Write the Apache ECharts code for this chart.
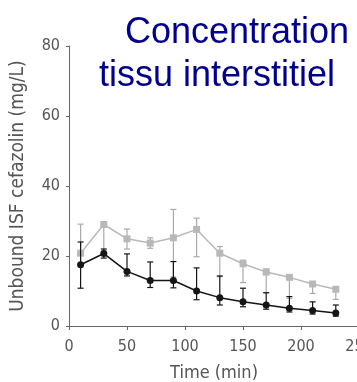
<!DOCTYPE html>
<html>
<head>
<meta charset="utf-8">
<script src="https://cdn.jsdelivr.net/npm/echarts@6/dist/echarts.min.js"></script>
<style>
html,body{margin:0;padding:0;background:#fff;}
#chart{width:357px;height:382px;}
</style>
</head>
<body>
<div id="chart"></div>
<script>
// ---- data ----
var times = [10, 30, 50, 70, 90, 110, 130, 150, 170, 190, 210, 230];

var grayMean = [20.8, 29.0, 24.9, 23.7, 25.2, 27.6, 20.8, 17.8, 15.4, 13.9, 12.0, 10.5];
var grayHigh = [29.1, 29.8, 27.7, 25.2, 33.3, 30.8, 22.7, 18.8, 16.3, 14.6, 12.6, 11.0];
var grayLow  = [18.0, 21.5, 22.0, 22.2, 14.0, 19.8, 14.1, 12.4, 9.5, 7.9, 9.3, 7.6];

var blackMean = [17.5, 20.7, 15.6, 13.0, 13.0, 10.0, 8.1, 6.9, 6.0, 5.1, 4.4, 3.7];
var blackHigh = [24.0, 22.0, 20.6, 18.3, 18.4, 16.6, 14.3, 10.8, 9.5, 8.4, 6.9, 6.0];
var blackLow  = [10.8, 19.4, 14.3, 11.0, 10.9, 7.5, 6.0, 5.5, 4.8, 4.0, 3.4, 2.8];

var xTicks = [0, 50, 100, 150, 200, 250];
var yTicks = [0, 20, 40, 60, 80];

var titleLine1 = 'Concentration';
var titleLine2 = 'tissu interstitiel';
var xName = 'Time (min)';
var yName = 'Unbound ISF cefazolin (mg/L)';

// ---- build ----
function pairs(xs, ys) { return xs.map(function (x, i) { return [x, ys[i]]; }); }
function errs(xs, lo, hi) { return xs.map(function (x, i) { return [x, lo[i], hi[i]]; }); }

function errRender(color) {
  return function (params, api) {
    var x = api.value(0);
    var pLo = api.coord([x, api.value(1)]);
    var pHi = api.coord([x, api.value(2)]);
    var w = 3;
    var st = { stroke: color, lineWidth: 1.2 };
    return {
      type: 'group',
      children: [
        { type: 'line', shape: { x1: pLo[0], y1: pLo[1], x2: pHi[0], y2: pHi[1] }, style: st },
        { type: 'line', shape: { x1: pLo[0] - w, y1: pLo[1], x2: pLo[0] + w, y2: pLo[1] }, style: st },
        { type: 'line', shape: { x1: pHi[0] - w, y1: pHi[1], x2: pHi[0] + w, y2: pHi[1] }, style: st }
      ]
    };
  };
}

var axisFont = '"DejaVu Sans Condensed", "DejaVu Sans", sans-serif';
var gray = '#b8b8b8';
var grayErr = '#aaaaaa';
var black = '#151515';

var chart = echarts.init(document.getElementById('chart'), null, { renderer: 'canvas' });
chart.setOption({
  animation: false,
  backgroundColor: '#fff',
  grid: { left: 69, right: -2, top: 46, bottom: 56, containLabel: false, outerBoundsMode: 'none' },
  xAxis: {
    type: 'value', min: xTicks[0], max: xTicks[xTicks.length - 1], interval: 50,
    name: xName, nameLocation: 'middle', nameGap: 38,
    nameTextStyle: { color: '#555', fontSize: 18, fontFamily: axisFont },
    axisLine: { lineStyle: { color: '#666', width: 1 } },
    axisTick: { show: true, length: 4, lineStyle: { color: '#666' } },
    axisLabel: { color: '#555', fontSize: 16, fontFamily: axisFont, margin: 13, showMaxLabel: true, hideOverlap: false },
    splitLine: { show: false }
  },
  yAxis: {
    type: 'value', min: yTicks[0], max: yTicks[yTicks.length - 1], interval: 20,
    name: yName, nameLocation: 'middle', nameGap: 41, nameRotate: 90,
    nameTextStyle: { color: '#555', fontSize: 19, fontFamily: axisFont },
    axisLine: { show: true, lineStyle: { color: '#666', width: 1 } },
    axisTick: { show: true, length: 3, lineStyle: { color: '#666' } },
    axisLabel: { color: '#555', fontSize: 16, fontFamily: axisFont, margin: 9 },
    splitLine: { show: false }
  },
  graphic: [
    { type: 'text', left: 125, top: 15, style: { text: titleLine1, fill: '#00008f', font: '36px "Liberation Sans", Arial, sans-serif' } },
    { type: 'text', left: 99, top: 58, style: { text: titleLine2, fill: '#00008f', font: '36px "Liberation Sans", Arial, sans-serif' } }
  ],
  series: [
    { type: 'custom', renderItem: errRender(grayErr), data: errs(times, grayLow, grayHigh), z: 1, silent: true },
    { type: 'line', data: pairs(times, grayMean), symbol: 'rect', symbolSize: 7,
      lineStyle: { color: gray, width: 1.5 }, itemStyle: { color: gray }, z: 2 },
    { type: 'custom', renderItem: errRender(black), data: errs(times, blackLow, blackHigh), z: 3, silent: true },
    { type: 'line', data: pairs(times, blackMean), symbol: 'circle', symbolSize: 7,
      lineStyle: { color: black, width: 1.5 }, itemStyle: { color: black }, z: 4 }
  ]
});
</script>
</body>
</html>
